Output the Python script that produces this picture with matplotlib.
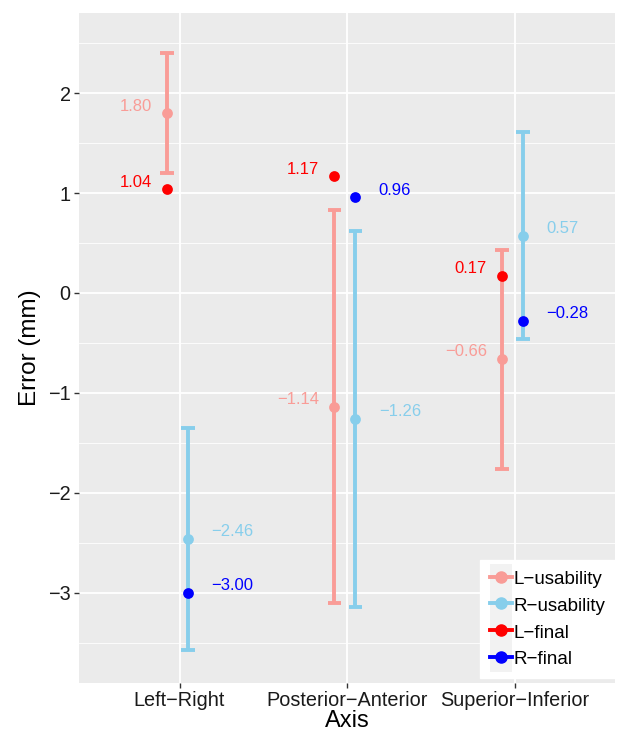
import matplotlib
matplotlib.use("Agg")
import matplotlib.pyplot as plt
from matplotlib.lines import Line2D
from matplotlib.patches import Rectangle
from matplotlib.legend_handler import HandlerLine2D
from matplotlib.ticker import MultipleLocator

plt.rcParams["font.family"] = ["Liberation Sans", "DejaVu Sans"]

axes_names = ["Left\u2212Right", "Posterior\u2212Anterior", "Superior\u2212Inferior"]
series = ["L\u2212usability", "R\u2212usability", "L\u2212final", "R\u2212final"]

l_usab = [1.80, -1.14, -0.66]
l_usab_lo = [1.20, -3.10, -1.76]
l_usab_hi = [2.40, 0.83, 0.43]
r_usab = [-2.46, -1.26, 0.57]
r_usab_lo = [-3.57, -3.14, -0.46]
r_usab_hi = [-1.35, 0.62, 1.61]
l_final = [1.04, 1.17, 0.17]
r_final = [-3.00, 0.96, -0.28]

c_lu = "#F99C97"
c_ru = "#87CEEB"
c_lf = "#FF0000"
c_rf = "#0000FF"


class KeyHandler(HandlerLine2D):
    # ggplot-like legend key: grey square behind the line+point
    def create_artists(self, legend, orig_handle, xdescent, ydescent,
                       width, height, fontsize, trans):
        bg = Rectangle((-xdescent, -ydescent - 4), width, height + 8,
                       facecolor="#F2F2F2", edgecolor="none", transform=trans)
        arts = super().create_artists(legend, orig_handle, xdescent, ydescent,
                                      width, height, fontsize, trans)
        return [bg] + list(arts)


fig = plt.figure(figsize=(6.27, 7.31), dpi=100)
ax = fig.add_axes([0.126, 0.0657, 0.855, 0.9165])
ax.set_facecolor("#EBEBEB")

xs = [1, 2, 3]
dl, dr = -0.075, 0.05


def errbars(x, y, lo, hi, col):
    for xi, yi, a, b in zip(x, y, lo, hi):
        ax.plot([xi, xi], [a, b], color=col, lw=2.8, solid_capstyle="butt", zorder=3)
        for v in (a, b):
            ax.plot([xi - 0.04, xi + 0.04], [v, v], color=col, lw=2.8,
                    solid_capstyle="butt", zorder=3)


errbars([x + dl for x in xs], l_usab, l_usab_lo, l_usab_hi, c_lu)
errbars([x + dr for x in xs], r_usab, r_usab_lo, r_usab_hi, c_ru)

ax.scatter([x + dl for x in xs], l_usab, s=60, color=c_lu, zorder=4, linewidths=0)
ax.scatter([x + dr for x in xs], r_usab, s=60, color=c_ru, zorder=4, linewidths=0)
ax.scatter([x + dl for x in xs], l_final, s=60, color=c_lf, zorder=4, linewidths=0)
ax.scatter([x + dr for x in xs], r_final, s=60, color=c_rf, zorder=4, linewidths=0)


def fmt(v):
    return f"{v:.2f}".replace("-", "\u2212")


lab = dict(fontsize=12, va="center")
for x, y in zip(xs, l_usab):
    ax.text(x + dl - 0.09, y + 0.07, fmt(y), color=c_lu, ha="right", **lab)
for x, y in zip(xs, l_final):
    ax.text(x + dl - 0.09, y + 0.07, fmt(y), color=c_lf, ha="right", **lab)
for x, y in zip(xs, r_usab):
    ax.text(x + dr + 0.14, y + 0.07, fmt(y), color=c_ru, ha="left", **lab)
for x, y in zip(xs, r_final):
    ax.text(x + dr + 0.14, y + 0.07, fmt(y), color=c_rf, ha="left", **lab)

ax.set_xlim(0.4, 3.6)
ax.set_ylim(-3.9, 2.8)
ax.set_xticks(xs)
ax.set_xticklabels(axes_names)
ax.yaxis.set_minor_locator(MultipleLocator(0.5))
yt = [-3, -2, -1, 0, 1, 2]
ax.set_yticks(yt)
ax.set_yticklabels([str(v).replace("-", "\u2212") for v in yt])
ax.grid(which="major", color="white", lw=1.3)
ax.grid(which="minor", axis="y", color="white", lw=0.6)
ax.set_axisbelow(True)
for s in ax.spines.values():
    s.set_visible(False)
ax.tick_params(which="major", length=3.5, width=1, color="#333333",
               labelsize=14.3, labelcolor="#1a1a1a", pad=2.5)
ax.tick_params(which="minor", length=0)

ax.set_xlabel("Axis", fontsize=17, labelpad=0)
ax.set_ylabel("Error (mm)", fontsize=17.5, labelpad=5)

handles = [Line2D([0], [0], color=c, lw=2.8, marker="o", markersize=8)
           for c in (c_lu, c_ru, c_lf, c_rf)]
leg = ax.legend(handles, series, loc="lower right", bbox_to_anchor=(1.0, 0.008),
                fontsize=13.5, frameon=True, fancybox=False, handlelength=1.2,
                handleheight=1.0, handletextpad=0.08, labelspacing=0.42,
                borderpad=0.5, borderaxespad=0,
                handler_map={Line2D: KeyHandler()})
leg.get_frame().set_facecolor("white")
leg.get_frame().set_edgecolor("white")
leg.get_frame().set_alpha(1)

fig.savefig("out.png", dpi=100)
